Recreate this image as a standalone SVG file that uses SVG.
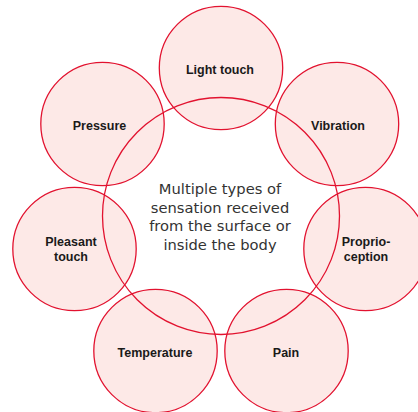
<svg xmlns="http://www.w3.org/2000/svg" width="418" height="412" viewBox="0 0 418 412">
<style>
.node circle{fill:#fde9e7;stroke:#e2122f;stroke-width:1.3}
.big{fill:none;stroke:#e2122f;stroke-width:1.3}
.lbl{font-family:"Liberation Sans",Arial,sans-serif;font-weight:700;font-size:12.5px;fill:#1a1a1a;text-anchor:middle}
.ctr{font-family:"DejaVu Sans",sans-serif;font-size:14.7px;fill:#333;text-anchor:middle}
</style>
<rect width="418" height="412" fill="#fff"/>
<g id="light-touch" class="node"><circle cx="221" cy="68" r="61.7"/><text class="lbl" x="220" y="74">Light touch</text></g>
<g id="vibration" class="node"><circle cx="337" cy="124" r="61.7"/><text class="lbl" x="338" y="130">Vibration</text></g>
<g id="proprioception" class="node"><circle cx="365.5" cy="249" r="61.7"/><text class="lbl" x="366" y="246">Proprio-</text><text class="lbl" x="366" y="261">ception</text></g>
<g id="pain" class="node"><circle cx="286.5" cy="351" r="61.7"/><text class="lbl" x="286" y="357">Pain</text></g>
<g id="temperature" class="node"><circle cx="155.5" cy="351" r="61.7"/><text class="lbl" x="155" y="357">Temperature</text></g>
<g id="pleasant-touch" class="node"><circle cx="74.5" cy="249" r="61.7"/><text class="lbl" x="71" y="246">Pleasant</text><text class="lbl" x="71" y="261">touch</text></g>
<g id="pressure" class="node"><circle cx="102.5" cy="124" r="61.7"/><text class="lbl" x="99.5" y="130">Pressure</text></g>
<g id="center" class="hub"><circle class="big" cx="221" cy="216" r="118.5"/>
<text class="ctr" x="220" y="194">Multiple types of</text>
<text class="ctr" x="220" y="212.5">sensation received</text>
<text class="ctr" x="220" y="231">from the surface or</text>
<text class="ctr" x="220" y="249.5">inside the body</text></g>
<g id="connectors"/>
</svg>
